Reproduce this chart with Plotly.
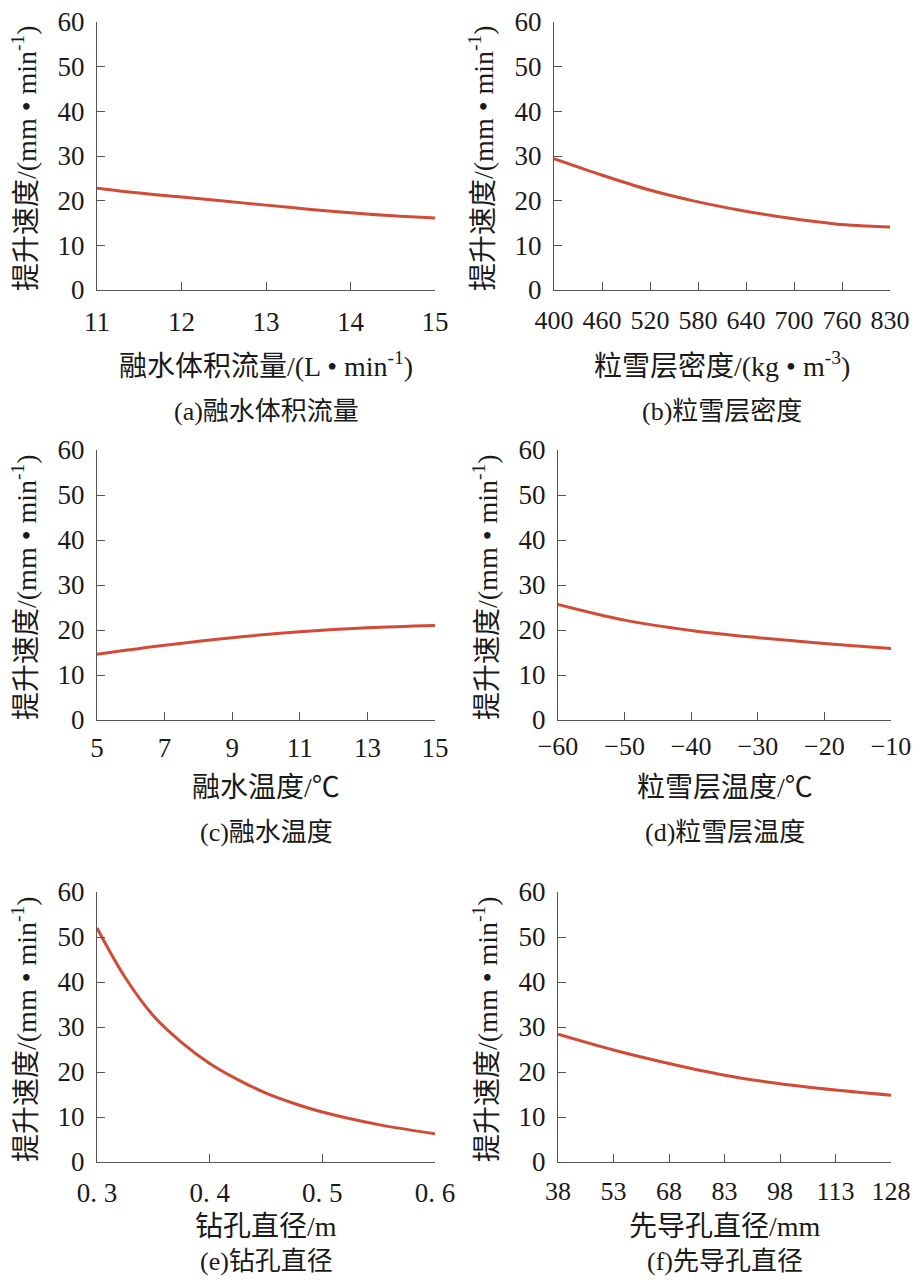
import plotly.graph_objects as go

# data
flow_x = [11, 11.5, 12, 12.5, 13, 13.5, 14, 14.5, 15]
flow_y = [22.8, 21.7, 20.8, 19.9, 19.0, 18.1, 17.3, 16.6, 16.1]

dens_x = [400, 460, 520, 580, 640, 700, 760, 830]
dens_y = [29.4, 25.8, 22.5, 19.9, 17.8, 16.1, 14.8, 14.1]
dens_ticks = ["400", "460", "520", "580", "640", "700", "760", "830"]

wtemp_x = [5, 7, 9, 11, 13, 15]
wtemp_y = [14.6, 16.6, 18.3, 19.6, 20.5, 21.0]

stemp_x = [-60, -50, -40, -30, -20, -10]
stemp_y = [25.7, 22.2, 19.9, 18.3, 17.0, 15.9]

hole_x = [0.3, 0.325, 0.35, 0.375, 0.4, 0.425, 0.45, 0.475, 0.5, 0.55, 0.6]
hole_y = [52.0, 41.0, 32.5, 26.6, 21.9, 18.3, 15.3, 13.0, 11.1, 8.3, 6.3]
hole_ticks = [0.3, 0.4, 0.5, 0.6]

pilot_x = [38, 53, 68, 83, 98, 113, 128]
pilot_y = [28.4, 24.9, 21.9, 19.3, 17.4, 16.0, 14.85]

y_ticks = [0, 10, 20, 30, 40, 50, 60]

x_titles = ["融水体积流量/(L • min<sup>-1</sup>)", "粒雪层密度/(kg • m<sup>-3</sup>)",
            "融水温度/℃", "粒雪层温度/℃",
            "钻孔直径/m", "先导孔直径/mm"]
captions = ["(a)融水体积流量", "(b)粒雪层密度", "(c)融水温度",
            "(d)粒雪层温度", "(e)钻孔直径", "(f)先导孔直径"]
y_title = "提升速度/(mm • min<sup>-1</sup>)"

# the page puts the plot 8px in from the corner, so size the figure to fit
PAD = 8
W, H = 922 - PAD, 1284 - 2 * PAD
FONT = "Liberation Serif, Noto Sans CJK SC, serif"
RED = "#d24b36"
AX = "#555555"
TXT = "#1a1a1a"


def px(x):
    return (x - PAD) / W


def py(y):
    return 1 - (y - PAD) / H


# panel boxes in screen pixels: left, right, top, bottom
boxes = [(97, 435, 22, 290), (554, 890, 22, 290),
         (97, 435, 450, 720), (558, 891, 450, 720),
         (97, 435, 892, 1162), (558, 891, 892, 1162)]
# per row: tick standoff, x-title offset, caption offset (px below axis)
row_offsets = [(7, 74, 121), (3, 68, 112), (6, 64, 99)]

series = [(flow_x, flow_y), (dens_x, dens_y), (wtemp_x, wtemp_y),
          (stemp_x, stemp_y), (hole_x, hole_y), (pilot_x, pilot_y)]

fig = go.Figure()
annotations = []
for i, ((xs, ys), (l, r, t, b)) in enumerate(zip(series, boxes)):
    n = "" if i == 0 else str(i + 1)
    standoff, t_off, c_off = row_offsets[i // 2]
    xfont = 27 if i % 2 == 0 else 26
    fig.add_trace(go.Scatter(
        x=xs, y=ys, mode="lines", line=dict(color=RED, width=3, shape="spline"),
        xaxis="x" + n, yaxis="y" + n, showlegend=False, hoverinfo="skip"))
    xa = dict(domain=[px(l), px(r)], anchor="y" + n, range=[min(xs), max(xs)],
              showline=True, linecolor=AX, linewidth=1.2, ticks="inside",
              ticklen=8, tickcolor=AX, showgrid=False, zeroline=False,
              automargin=False, tickfont=dict(size=xfont, color=TXT),
              ticklabelstandoff=standoff, ticklabeloverflow="allow")
    ya = dict(domain=[py(b), py(t)], anchor="x" + n, range=[0, 60],
              tickvals=y_ticks,
              showline=True, linecolor=AX, linewidth=1.2, ticks="inside",
              ticklen=8, tickcolor=AX, showgrid=False, zeroline=False,
              automargin=False, tickfont=dict(size=27, color=TXT),
              ticklabelstandoff=6, ticklabeloverflow="allow")
    if i == 1:
        step = (max(xs) - min(xs)) / (len(dens_ticks) - 1)
        xa["tickvals"] = [min(xs) + k * step for k in range(len(dens_ticks))]
        xa["ticktext"] = dens_ticks
    elif i == 3:
        xa["tickvals"] = stemp_x
        xa["ticktext"] = ["\u2212" + str(abs(v)) for v in stemp_x]
    elif i == 4:
        xa["tickvals"] = hole_ticks
        xa["ticktext"] = ["0. " + str(v)[-1] for v in hole_ticks]
    elif i == 0:
        xa["tickvals"] = [11, 12, 13, 14, 15]
    else:
        xa["tickvals"] = xs
    fig.update_layout({"xaxis" + n: xa, "yaxis" + n: ya})

    cx = px((l + r) / 2)
    common = dict(xref="paper", yref="paper", showarrow=False,
                  xanchor="center", yanchor="middle")
    # x axis title
    annotations.append(dict(text=x_titles[i], x=cx, y=py(b + t_off),
                            font=dict(size=28, family=FONT, color=TXT), **common))
    # caption
    annotations.append(dict(text=captions[i], x=cx, y=py(b + c_off),
                            font=dict(size=26, family=FONT, color=TXT), **common))
    # y axis title
    annotations.append(dict(text=y_title, x=px(l - 73), y=py((t + b) / 2 + 2),
                            textangle=-90,
                            font=dict(size=28, family=FONT, color=TXT), **common))

fig.update_layout(
    width=W, height=H,
    margin=dict(l=0, r=0, t=0, b=0),
    paper_bgcolor="white", plot_bgcolor="white",
    font=dict(family=FONT, color=TXT),
    annotations=annotations,
)

fig.write_html("out.html")
